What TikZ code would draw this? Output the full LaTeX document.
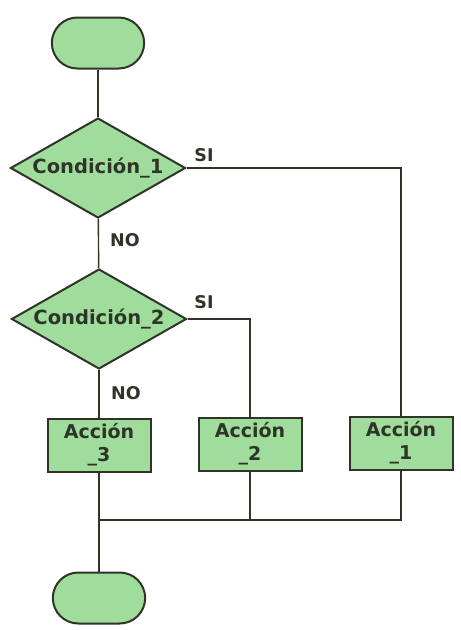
\documentclass[tikz,border=0pt]{standalone}
\usepackage{fontspec}
\setmainfont{DejaVu Sans}
\usepackage{tikz}
\usetikzlibrary{positioning, shapes.geometric, shapes.misc}

\definecolor{fillgreen}{RGB}{160,221,156}
\definecolor{inkline}{RGB}{46,52,40}

\tikzset{
  terminal/.style={rounded rectangle, draw=inkline, fill=fillgreen, line width=2pt,
    minimum width=99pt, minimum height=51pt},
  decision/.style={diamond, aspect=1.75, draw=inkline, fill=fillgreen, line width=2pt,
    inner sep=0pt, minimum width=175pt, minimum height=100pt,
    font=\bfseries\fontsize{19.5}{22}\selectfont, text=inkline},
  process/.style={rectangle, draw=inkline, fill=fillgreen, line width=2pt, align=center,
    minimum width=103pt, minimum height=53pt, inner sep=1pt,
    font=\bfseries\fontsize{19}{23}\selectfont, text=inkline},
  answer/.style={font=\bfseries\fontsize{17.5}{20}\selectfont, text=inkline},
  flow/.style={draw=inkline, line width=1.4pt}
}

\begin{document}
\begin{tikzpicture}[x=1pt, y=1pt]
\useasboundingbox (0,0) rectangle (461,-630);

% nodes
\node[terminal] (start) at (98, -43) {};
\node[decision] (cond1) at (98, -168) {Condición\_1};
\node[decision] (cond2) at (99, -319) {Condición\_2};
\node[process] (act3) at (99, -445) {Acción\\\_3};
\node[process] (act2) at (250, -444) {Acción\\\_2};
\node[process] (act1) at (401, -443) {Acción\\\_1};
\node[terminal] (stop) at (99, -598) {};
\coordinate (join) at (99, -520);

% labels
\node[answer] (si1) at (204, -155) {SI};
\node[answer] (no1) at (125, -240) {NO};
\node[answer] (si2) at (204, -302) {SI};
\node[answer] (no2) at (126, -393) {NO};

% lines
\draw[flow] (start) -- (cond1);
\draw[flow] (cond1) -- (cond2);
\draw[flow] (cond2) -- (act3);
\draw[flow] (cond1.east) -| (act1);
\draw[flow] (cond2.east) -| (act2);
\draw[flow] (act1) |- (join);
\draw[flow] (act2) -- (act2 |- join);
\draw[flow] (act3) -- (stop);

\end{tikzpicture}
\end{document}
